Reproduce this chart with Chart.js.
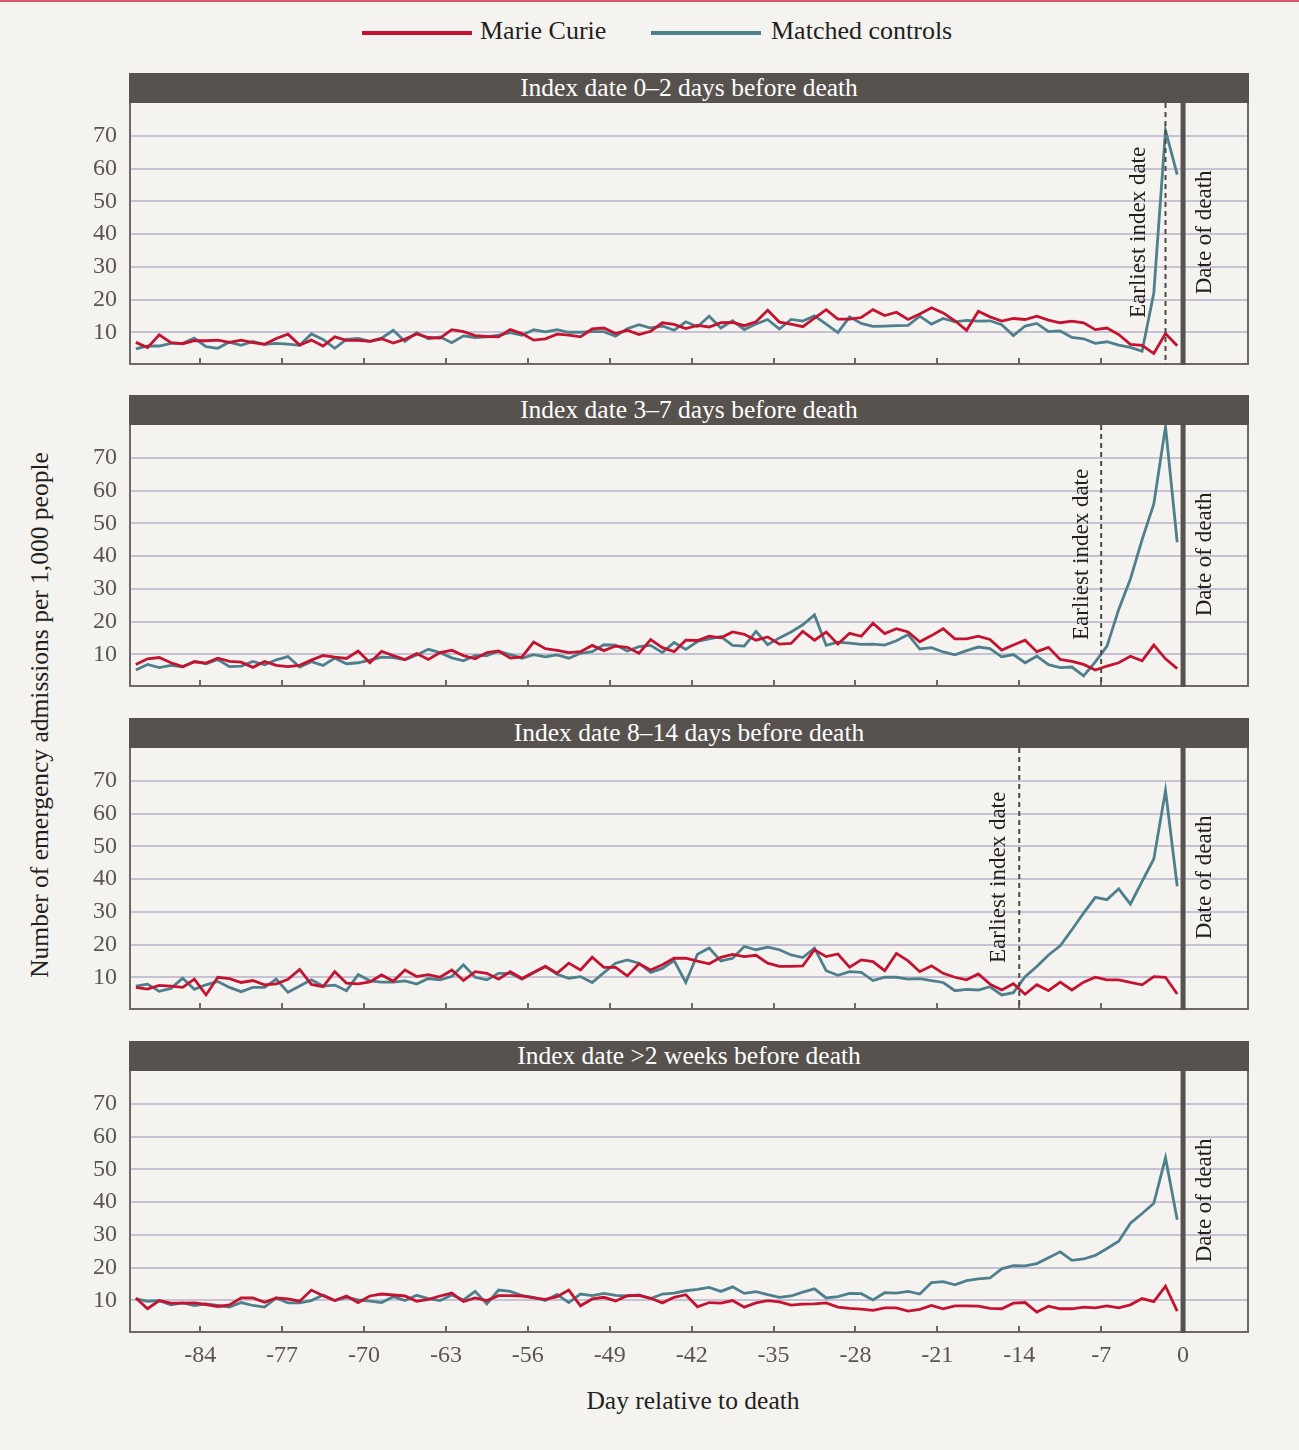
<!DOCTYPE html>
<html>
<head>
<meta charset="utf-8">
<title>Emergency admissions before death</title>
<script src="https://cdn.jsdelivr.net/npm/chart.js@4.4.1/dist/chart.umd.min.js"></script>
<style>
    body { margin: 0; background: #f5f3ef; }
    #page {
        position: relative; width: 1299px; height: 1450px; overflow: hidden;
        background: #f5f3ef;
        font-family: "Liberation Serif", "DejaVu Serif", serif; color: #231f1c;
    }
    #topRule { position: absolute; left: 0; top: 0; width: 1299px; height: 2px; background: #d85a6f; }
    .bar {
        position: absolute; left: 129px; width: 1120px; height: 30px;
        background: #58524e; color: #fff; font-size: 25.5px; line-height: 30px; text-align: center;
    }
    .swatch { position: absolute; height: 4px; width: 110px; }
    .legend-text { position: absolute; font-size: 26px; line-height: 30px; white-space: nowrap; }
    canvas { position: absolute; left: 0; }
    #yTitle {
        position: absolute; left: -260px; top: 700px; width: 600px; height: 30px;
        font-size: 25.5px; line-height: 30px; text-align: center; transform: rotate(-90deg);
    }
    #xTitle {
        position: absolute; left: 393px; top: 1386px; width: 600px;
        font-size: 25.5px; line-height: 30px; text-align: center;
    }
</style>
</head>
<body>
<div id="page">
    <div id="topRule"></div>
    <div class="swatch" style="left:362px; top:31px; background:#c41230"></div>
    <div class="legend-text" style="left:480px; top:16px">Marie Curie</div>
    <div class="swatch" style="left:651px; top:31px; background:#4e7f8d"></div>
    <div class="legend-text" style="left:771px; top:16px">Matched controls</div>

    <div id="yTitle">Number of emergency admissions per 1,000 people</div>
    <div id="xTitle">Day relative to death</div>
</div>

<script>
// day bins before death, each plotted at the bin centre
const days = Array.from({ length: 90 }, (_, i) => i - 90);
const xTicks = [-84, -77, -70, -63, -56, -49, -42, -35, -28, -21, -14, -7, 0];
const yTicks = [10, 20, 30, 40, 50, 60, 70];

const panelTitles = [
    "Index date 0\u20132 days before death",
    "Index date 3\u20137 days before death",
    "Index date 8\u201314 days before death",
    "Index date >2 weeks before death"
];
const earliestIndexDates = [-1.5, -7, -14, null];

const marieCurie1 = [
    6.9, 5.3, 9.2, 6.8, 6.5, 7.4, 7.4, 7.6, 6.9, 7.6, 6.8, 6.3, 8.1, 9.4, 6.1, 7.6, 5.8, 8.6,
    7.5, 7.5, 7.2, 8.0, 6.7, 7.9, 9.5, 8.4, 8.2, 10.8, 10.2, 9.0, 8.7, 8.6, 10.8, 9.6, 7.6, 8.0,
    9.4, 9.1, 8.6, 11.0, 11.3, 9.6, 10.6, 9.3, 10.3, 12.9, 12.4, 11.1, 12.1, 11.6, 12.9, 13.0,
    12.0, 13.2, 16.7, 13.1, 12.5, 11.7, 14.3, 16.9, 14.0, 14.0, 14.5, 16.9, 15.1, 16.1, 13.9,
    15.6, 17.5, 15.9, 13.5, 10.6, 16.4,
    14.7, 13.4, 14.2, 13.9, 14.9, 13.7, 12.9, 13.4, 12.9, 10.8, 11.3, 9.3, 6.3, 6.0, 3.5, 9.6, 5.9
];
const controls1 = [
    4.9, 5.8, 5.8, 6.6, 6.6, 8.2, 5.6, 5.1, 7.0, 6.0, 7.2, 6.3, 6.6, 6.4, 6.0, 9.5, 7.8, 5.1,
    7.8, 8.1, 7.2, 8.2, 10.6, 7.2, 9.9, 8.0, 8.6, 6.8, 8.9, 8.4, 8.6, 9.1, 9.9, 9.1, 10.8, 10.1,
    10.8, 10.0, 10.0, 10.2, 10.2, 8.8, 11.1, 12.3, 11.3, 11.9, 10.6, 13.2, 11.7, 14.9, 11.3, 13.5,
    10.8, 12.5, 13.9, 11.0, 13.9, 13.4, 15.0, 12.5, 9.9, 14.7, 12.7, 11.8, 11.9, 12.0, 12.1, 14.9,
    12.5, 14.2, 13.2, 13.6, 13.4,
    13.5, 12.3, 9.0, 11.9, 12.7, 10.2, 10.4, 8.4, 8.0, 6.6, 7.1, 6.1, 5.4, 4.2, 22.0, 71.6, 58.1
];

const marieCurie2 = [
    6.9, 8.6, 9.0, 7.4, 6.2, 7.7, 7.3, 8.8, 7.8, 7.6, 6.0, 7.8, 6.6, 6.2, 6.6, 8.2, 9.6, 9.1,
    8.7, 11.0, 7.4, 10.9, 9.6, 8.4, 10.2, 8.4, 10.5, 11.2, 9.6, 8.6, 10.5, 11.0, 8.8, 9.2, 13.7, 11.7,
    11.2, 10.5, 10.8, 12.7, 11.1, 12.5, 12.1, 10.3, 14.5, 12.0, 10.8, 14.3, 14.2, 15.5, 15.0, 16.8,
    16.1, 14.3, 15.3, 13.1, 13.3, 17.0, 14.3, 16.8, 13.1, 16.4, 15.5, 19.5, 16.3, 17.8, 16.8, 13.8,
    15.7, 17.8, 14.7, 14.7,
    15.5, 14.5, 11.3, 12.8, 14.3, 10.8, 12.1, 8.4, 7.8, 6.9, 5.2, 6.4, 7.4, 9.4, 8.0, 12.8, 8.6, 5.6
];
const controls2 = [
    5.2, 6.9, 5.9, 6.6, 6.2, 7.8, 7.1, 8.4, 6.2, 6.4, 7.8, 6.8, 8.3, 9.3, 6.1, 7.7, 6.6, 8.8,
    7.1, 7.4, 8.2, 9.1, 9.0, 8.3, 9.8, 11.5, 10.5, 8.9, 8.0, 9.6, 9.6, 10.9, 9.9, 8.8, 9.9, 9.2,
    9.8, 8.8, 10.3, 10.8, 12.9, 12.8, 11.0, 12.3, 12.7, 10.5, 13.6, 11.5, 13.9, 14.7, 15.4, 12.7,
    12.5, 17.0, 12.9, 15.0, 16.8, 19.0, 22.0, 12.7, 13.7, 13.4, 13.0, 13.1, 12.8, 14.1, 16.0, 11.6,
    12.0, 10.7, 9.8, 11.1,
    12.2, 11.7, 9.2, 9.9, 7.4, 9.4, 6.8, 5.9, 6.1, 3.4, 7.7, 12.5, 23.7, 33.0, 45.0, 55.9, 79.5, 44.2
];

const marieCurie3 = [
    6.9, 6.4, 7.5, 7.3, 6.9, 9.4, 4.6, 10.0, 9.6, 8.4, 9.0, 7.7, 8.0, 9.4, 12.4, 7.8, 7.1, 11.7,
    8.2, 8.0, 8.6, 10.7, 8.8, 12.2, 10.2, 10.8, 10.0, 12.2, 9.0, 11.7, 11.2, 9.4, 11.7, 9.6, 11.5, 13.3,
    11.2, 14.3, 12.2, 16.1, 13.0, 13.0, 10.4, 14.1, 12.2, 13.8, 15.8, 15.8, 14.9, 14.1, 16.1, 17.0,
    16.3, 16.7, 14.3, 13.3, 13.3, 13.5, 18.4, 16.3, 17.1, 13.1, 15.3, 14.8, 12.0, 17.3, 15.0, 11.7,
    13.5, 11.2, 10.0, 9.2,
    11.0, 7.9, 6.1, 8.0, 4.8, 7.7, 5.9, 8.5, 6.1, 8.5, 10.0, 9.2, 9.2, 8.4, 7.7, 10.2, 10.0, 4.9
];
const controls3 = [
    7.3, 7.9, 5.7, 6.6, 9.7, 6.3, 7.7, 8.7, 6.9, 5.6, 6.9, 6.9, 9.4, 5.4, 7.3, 9.2, 7.3, 7.6,
    5.9, 10.8, 8.9, 8.5, 8.5, 8.9, 7.9, 9.6, 9.2, 10.2, 13.8, 10.0, 9.2, 11.2, 11.2, 9.4, 11.4, 13.3,
    10.9, 9.7, 10.2, 8.4, 11.4, 14.3, 15.3, 14.3, 11.5, 12.7, 15.1, 8.4, 17.0, 18.9, 15.0, 15.8,
    19.4, 18.4, 19.2, 18.4, 16.8, 16.0, 18.9, 12.0, 10.6, 11.7, 11.5, 9.0, 10.0, 10.0, 9.4, 9.6,
    9.0, 8.4, 5.9, 6.3,
    6.1, 7.1, 4.6, 5.3, 10.2, 13.3, 16.8, 19.6, 24.5, 29.6, 34.4, 33.7, 37.0, 32.3, 39.3, 46.1, 67.0, 37.8
];

const marieCurie4 = [
    10.7, 7.4, 9.9, 9.1, 9.1, 9.2, 8.7, 8.1, 8.6, 10.7, 10.7, 9.4, 10.7, 10.4, 9.7, 13.1, 11.4, 9.9,
    11.3, 9.3, 11.3, 11.9, 11.6, 11.3, 9.7, 10.3, 11.3, 12.2, 9.6, 10.7, 9.9, 11.4, 11.4, 11.3, 10.7,
    10.3, 11.1, 13.1, 8.3, 10.4, 10.9, 9.8, 11.4, 11.5, 10.6, 9.2, 10.9, 11.7,
    8.0, 9.3, 9.1, 9.9, 7.9, 9.2, 9.9, 9.5, 8.5, 8.8, 8.9, 9.2, 7.9, 7.5, 7.3, 6.9, 7.7, 7.7, 6.7,
    7.2, 8.4, 7.4, 8.3, 8.3, 8.2, 7.5, 7.4, 9.1, 9.3, 6.4, 8.2, 7.4, 7.4, 7.9, 7.7, 8.3, 7.7, 8.6,
    10.5, 9.6, 14.3, 6.7
];
const controls4 = [
    10.4, 9.7, 9.9, 8.6, 9.2, 8.4, 8.9, 8.4, 7.9, 9.3, 8.4, 7.9, 10.7, 9.2, 9.2, 9.9, 11.6, 9.9,
    10.9, 10.1, 9.7, 9.3, 11.1, 9.9, 11.5, 10.5, 9.9, 11.6, 10.1, 12.7, 8.9, 13.1, 12.7, 11.4, 10.9,
    9.9, 11.8, 9.3, 11.9, 11.4, 12.1, 11.5, 11.3, 11.6, 10.5, 11.9, 12.2, 12.9,
    13.3, 13.9, 12.7, 14.1, 12.1, 12.6, 11.7, 10.9, 11.3, 12.5, 13.5, 10.7, 11.1, 12.1, 12.0, 10.1,
    12.3, 12.2, 12.7, 11.9, 15.4, 15.7, 14.7, 16.0, 16.5, 16.8, 19.6, 20.6, 20.5, 21.2, 23.0, 24.8,
    22.2, 22.6, 23.7, 25.8, 28.0, 33.5, 36.5, 39.6, 53.5, 34.6
];

const marieCurieSeries = [marieCurie1, marieCurie2, marieCurie3, marieCurie4];
const controlSeries = [controls1, controls2, controls3, controls4];

const RED = "#c41230";
const TEAL = "#4e7f8d";
const FRAME = "#6f6964";
const SERIF = '"Liberation Serif", "DejaVu Serif", serif';

const barTops = [73, 395, 718, 1041];
const indexLabelShift = [-27, -19, -20, 0];
const PLOT_H = 262;

function toPoints(values) {
    return values.map((v, i) => ({ x: days[i] + 0.5, y: v }));
}

function rotatedText(ctx, text, x, y) {
    ctx.save();
    ctx.translate(x, y);
    ctx.rotate(-Math.PI / 2);
    ctx.font = `23px ${SERIF}`;
    ctx.fillStyle = "#231f1c";
    ctx.textAlign = "center";
    ctx.textBaseline = "middle";
    ctx.fillText(text, 0, 0);
    ctx.restore();
}

// frame, inner ticks, index date and date of death markers
const markerPlugin = {
    id: "markers",
    afterDatasetsDraw(chart) {
        const ctx = chart.ctx;
        const a = chart.chartArea;
        const x = chart.scales.x;
        const y = chart.scales.y;
        const panel = chart.options.plugins.markers.panel;

        ctx.save();
        ctx.strokeStyle = FRAME;
        ctx.lineWidth = 2;
        ctx.beginPath();
        ctx.moveTo(a.left, a.top);
        ctx.lineTo(a.left, a.bottom - 1);
        ctx.lineTo(a.right, a.bottom - 1);
        ctx.lineTo(a.right, a.top);
        ctx.stroke();

        xTicks.forEach(v => {
            if (v === 0) return;
            const px = Math.round(x.getPixelForValue(v));
            ctx.beginPath();
            ctx.moveTo(px, a.bottom);
            ctx.lineTo(px, a.bottom - 7);
            ctx.stroke();
        });

        const indexDate = earliestIndexDates[panel];
        if (indexDate !== null) {
            const px = x.getPixelForValue(indexDate);
            ctx.strokeStyle = "#4d4946";
            ctx.setLineDash([5, 4]);
            ctx.beginPath();
            ctx.moveTo(px, a.top);
            ctx.lineTo(px, a.bottom);
            ctx.stroke();
            ctx.setLineDash([]);
            rotatedText(ctx, "Earliest index date", px + indexLabelShift[panel], y.getPixelForValue(40.5));
        }

        const p0 = x.getPixelForValue(0);
        ctx.strokeStyle = "#58524e";
        ctx.lineWidth = 5;
        ctx.beginPath();
        ctx.moveTo(p0, a.top);
        ctx.lineTo(p0, a.bottom);
        ctx.stroke();
        ctx.restore();

        rotatedText(ctx, "Date of death", x.getPixelForValue(1.9), y.getPixelForValue(40.5));
    }
};

function makePanel(panel) {
    const page = document.getElementById("page");
    const last = panel === 3;

    const bar = document.createElement("div");
    bar.className = "bar";
    bar.style.top = barTops[panel] + "px";
    bar.textContent = panelTitles[panel];
    page.appendChild(bar);

    const canvas = document.createElement("canvas");
    canvas.width = 1299;
    canvas.height = PLOT_H + (last ? 50 : 4);
    canvas.style.top = (barTops[panel] + 30) + "px";
    page.appendChild(canvas);

    return new Chart(canvas, {
        type: "line",
        data: {
            datasets: [{
                label: "Marie Curie",
                data: toPoints(marieCurieSeries[panel]),
                borderColor: RED,
                borderWidth: 2.8,
                pointRadius: 0,
                tension: 0
            }, {
                label: "Matched controls",
                data: toPoints(controlSeries[panel]),
                borderColor: TEAL,
                borderWidth: 2.8,
                pointRadius: 0,
                tension: 0
            }]
        },
        options: {
            responsive: false,
            animation: false,
            layout: { padding: { left: 0, right: 51, top: 0, bottom: 0 } },
            plugins: {
                legend: { display: false },
                tooltip: { enabled: false },
                markers: { panel: panel }
            },
            scales: {
                x: {
                    type: "linear",
                    min: -90,
                    max: 5.55,
                    afterBuildTicks: s => { s.ticks = xTicks.map(v => ({ value: v })); },
                    afterFit: s => {
                        s.height = last ? 50 : 4;
                        s.paddingLeft = 0;
                        s.paddingRight = 0;
                    },
                    grid: { display: false },
                    border: { display: false },
                    ticks: {
                        display: last,
                        autoSkip: false,
                        maxRotation: 0,
                        padding: 0,
                        color: "#5a5550",
                        font: { family: SERIF, size: 24 },
                        callback: v => String(v)
                    }
                },
                y: {
                    min: 0,
                    max: 80,
                    afterBuildTicks: s => { s.ticks = yTicks.map(v => ({ value: v })); },
                    afterFit: s => {
                        s.width = 130;
                        s.paddingTop = 0;
                        s.paddingBottom = 0;
                    },
                    grid: { color: "#c6c2d4", lineWidth: 2, drawTicks: false },
                    border: { display: false },
                    ticks: {
                        padding: 13,
                        color: "#5a5550",
                        font: { family: SERIF, size: 24 }
                    }
                }
            }
        },
        plugins: [markerPlugin]
    });
}

[0, 1, 2, 3].forEach(makePanel);
</script>
</body>
</html>
